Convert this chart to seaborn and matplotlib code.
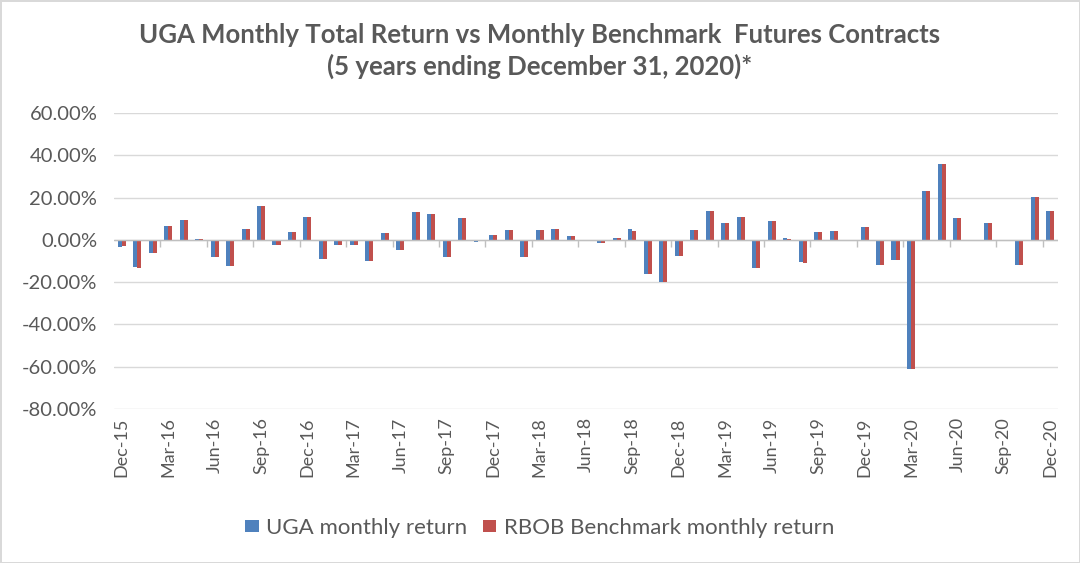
import matplotlib
matplotlib.use("Agg")
import matplotlib.pyplot as plt
from matplotlib.patches import Patch
import seaborn as sns
import pandas as pd
import numpy as np

# months Dec-15 .. Dec-20
months = list(pd.date_range("2015-12-01", periods=61, freq="MS").strftime("%b-%y"))

uga = [-3.2, -13.0, -6.0, 6.7, 9.5, 0.3, -8.0, -12.4, 5.1, 15.9,
       -2.4, 3.7, 11.0, -9.0, -2.5, -2.5, -10.0, 3.2, -4.9, 13.0,
       12.2, -8.1, 10.3, -0.8, 2.2, 4.6, -8.1, 4.6, 5.2, 1.7,
       0.1, -1.7, 1.0, 5.2, -16.3, -19.8, -7.6, 4.6, 13.8, 7.9,
       11.0, -13.2, 8.9, 1.0, -10.5, 3.8, 4.4, 0.1, 6.0, -11.9,
       -9.7, -61.0, 23.0, 35.9, 10.2, -0.7, 7.9, -0.6, -11.9, 20.2,
       13.7]
rbob = [-3.0, -13.1, -6.0, 6.7, 9.5, 0.3, -8.0, -12.3, 5.1, 15.9,
        -2.3, 3.7, 11.0, -9.0, -2.5, -2.5, -10.0, 3.2, -4.9, 13.0,
        12.2, -8.1, 10.3, -0.6, 2.2, 4.6, -8.1, 4.6, 5.2, 1.7,
        0.1, -1.7, 1.0, 4.4, -16.3, -19.8, -7.6, 4.6, 13.8, 7.9,
        11.0, -13.2, 8.9, 0.3, -11.1, 3.8, 4.4, 0.1, 6.0, -11.9,
        -9.7, -61.0, 23.0, 35.9, 10.2, -0.7, 7.9, -0.6, -11.9, 20.2,
        13.7]

series_names = ["UGA monthly return", "RBOB Benchmark monthly return"]
colors = ["#4F81BD", "#C0504D"]
tick_every = 3

df = pd.DataFrame({
    "month": months * 2,
    "value": uga + rbob,
    "series": [series_names[0]] * len(months) + [series_names[1]] * len(months),
})

sns.set_theme(style="white")
plt.rcParams["font.family"] = ["Lato", "DejaVu Sans"]
text_color = "#595959"

fig = plt.figure(figsize=(10.8, 5.63), dpi=100)
fig.patch.set_edgecolor("#D9D9D9")
fig.patch.set_linewidth(2)
ax = fig.add_axes([114 / 1080, 1 - 409 / 563, 944 / 1080, 296 / 563])

sns.barplot(data=df, x="month", y="value", hue="series", order=months,
            palette=colors, width=0.52, dodge=True, gap=0, ax=ax,
            saturation=1, edgecolor="none", linewidth=0, legend=False)

ax.set_ylim(-80, 60)
ax.set_xlim(-0.5, len(months) - 0.5)
ax.set_yticks(np.arange(-80, 61, 20))
ax.set_yticklabels([f"{v:.2f}%" for v in np.arange(-80, 61, 20)],
                   fontsize=14.5, color=text_color)
ax.yaxis.grid(True, color="#D9D9D9", linewidth=1)
ax.set_axisbelow(True)
ax.set_xticks(range(0, len(months), tick_every))
ax.set_xticklabels(months[::tick_every], rotation=90, fontsize=13,
                   color=text_color)
ax.tick_params(axis="both", length=0, pad=6)
ax.tick_params(axis="y", pad=12)
for s in ax.spines.values():
    s.set_visible(False)
ax.set_xlabel("")
ax.set_ylabel("")

# category axis line at zero with tick marks every 3 months
ax.axhline(0, color="#BFBFBF", linewidth=1, zorder=1)
sec = ax.secondary_xaxis(80 / 140)
sec.set_xticks(np.arange(tick_every - 0.5, len(months) - 1, tick_every))
sec.set_xticklabels([])
sec.tick_params(axis="x", direction="in", length=5, color="#BFBFBF", width=1)
sec.spines["bottom"].set_visible(False)
sec.spines["top"].set_visible(False)

fig.suptitle("UGA Monthly Total Return vs Monthly Benchmark  Futures Contracts\n"
             "(5 years ending December 31, 2020)*",
             y=0.96, fontsize=18.5, fontweight="bold", color=text_color,
             linespacing=1.35)

handles = [Patch(facecolor=c, edgecolor="none") for c in colors]
fig.legend(handles, series_names, loc="center", bbox_to_anchor=(0.5, 1 - 528 / 563),
           frameon=False, ncol=2, fontsize=16, labelcolor=text_color,
           handlelength=0.6, handleheight=0.45, handletextpad=0.35,
           columnspacing=0.7)

fig.savefig("out.png", dpi=100, edgecolor=fig.get_edgecolor())
